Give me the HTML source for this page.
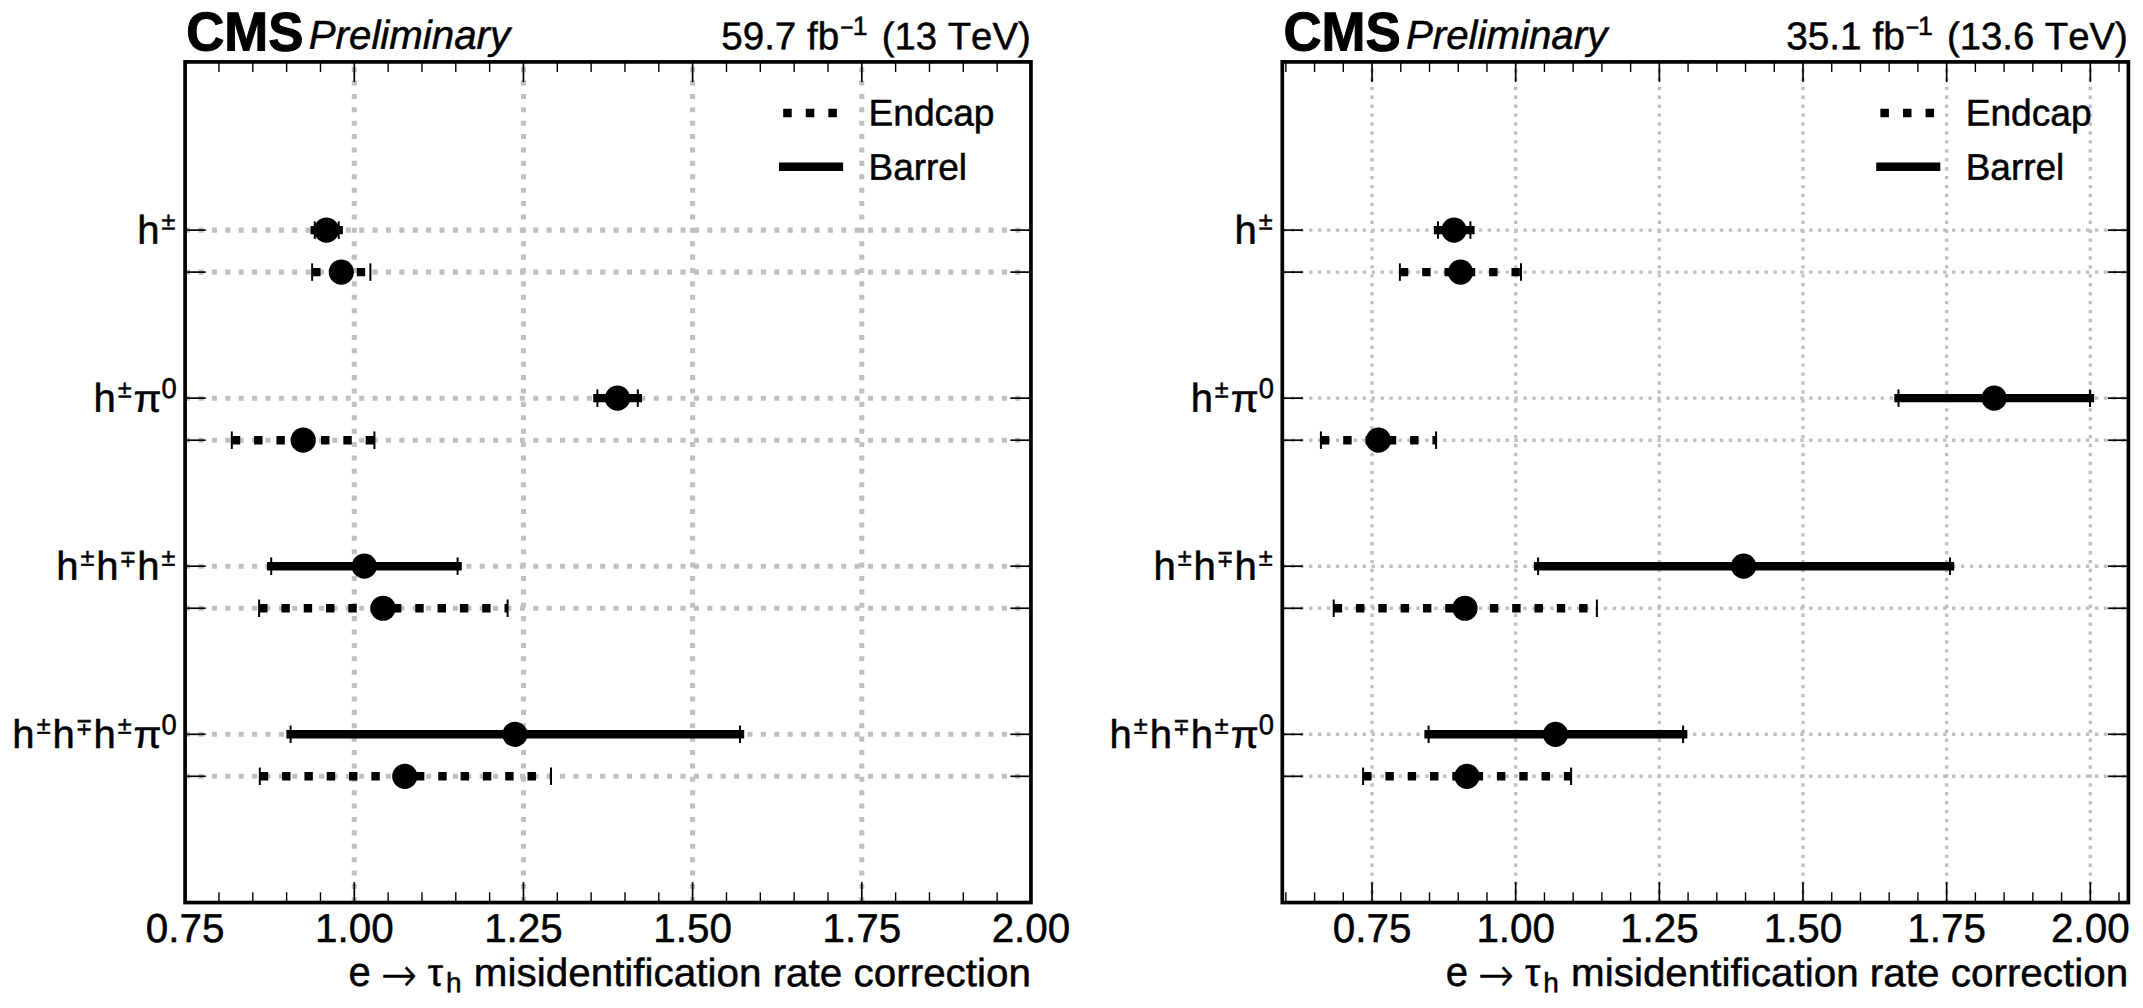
<!DOCTYPE html>
<html lang="en">
<head>
<meta charset="utf-8">
<title>e to tau_h misidentification rate correction</title>
<style>
html,body{margin:0;padding:0;background:#fff;}
body{width:2143px;height:1008px;overflow:hidden;}
svg{display:block;}
svg text{font-family:"Liberation Sans", "DejaVu Sans", sans-serif;fill:#000;font-kerning:none;}
</style>
</head>
<body>
<svg width="2143" height="1008" viewBox="0 0 2143 1008">
<rect x="0" y="0" width="2143" height="1008" fill="#fff"/>
<g id="panel0">
<g fill="none">
<line x1="354.3" y1="902.35" x2="354.3" y2="62" stroke="#c0c0c0" stroke-width="5.05" stroke-dasharray="5.05 8.34"/>
<line x1="523.45" y1="902.35" x2="523.45" y2="62" stroke="#c0c0c0" stroke-width="5.05" stroke-dasharray="5.05 8.34"/>
<line x1="692.6" y1="902.35" x2="692.6" y2="62" stroke="#c0c0c0" stroke-width="5.05" stroke-dasharray="5.05 8.34"/>
<line x1="861.8" y1="902.35" x2="861.8" y2="62" stroke="#c0c0c0" stroke-width="5.05" stroke-dasharray="5.05 8.34"/>
<line x1="185.1" y1="230.1" x2="1030.95" y2="230.1" stroke="#c0c0c0" stroke-width="5.05" stroke-dasharray="5.05 8.34"/>
<line x1="185.1" y1="272.1" x2="1030.95" y2="272.1" stroke="#c0c0c0" stroke-width="5.05" stroke-dasharray="5.05 8.34"/>
<line x1="185.1" y1="398.15" x2="1030.95" y2="398.15" stroke="#c0c0c0" stroke-width="5.05" stroke-dasharray="5.05 8.34"/>
<line x1="185.1" y1="440.2" x2="1030.95" y2="440.2" stroke="#c0c0c0" stroke-width="5.05" stroke-dasharray="5.05 8.34"/>
<line x1="185.1" y1="566.2" x2="1030.95" y2="566.2" stroke="#c0c0c0" stroke-width="5.05" stroke-dasharray="5.05 8.34"/>
<line x1="185.1" y1="608.25" x2="1030.95" y2="608.25" stroke="#c0c0c0" stroke-width="5.05" stroke-dasharray="5.05 8.34"/>
<line x1="185.1" y1="734.3" x2="1030.95" y2="734.3" stroke="#c0c0c0" stroke-width="5.05" stroke-dasharray="5.05 8.34"/>
<line x1="185.1" y1="776.3" x2="1030.95" y2="776.3" stroke="#c0c0c0" stroke-width="5.05" stroke-dasharray="5.05 8.34"/>
</g>
<g fill="none" stroke="#000">
<line x1="218.96" y1="61.9" x2="218.96" y2="72" stroke="#000" stroke-width="1.4"/>
<line x1="218.96" y1="902.55" x2="218.96" y2="892.35" stroke="#000" stroke-width="1.4"/>
<line x1="252.8" y1="61.9" x2="252.8" y2="72" stroke="#000" stroke-width="1.4"/>
<line x1="252.8" y1="902.55" x2="252.8" y2="892.35" stroke="#000" stroke-width="1.4"/>
<line x1="286.63" y1="61.9" x2="286.63" y2="72" stroke="#000" stroke-width="1.4"/>
<line x1="286.63" y1="902.55" x2="286.63" y2="892.35" stroke="#000" stroke-width="1.4"/>
<line x1="320.47" y1="61.9" x2="320.47" y2="72" stroke="#000" stroke-width="1.4"/>
<line x1="320.47" y1="902.55" x2="320.47" y2="892.35" stroke="#000" stroke-width="1.4"/>
<line x1="388.13" y1="61.9" x2="388.13" y2="72" stroke="#000" stroke-width="1.4"/>
<line x1="388.13" y1="902.55" x2="388.13" y2="892.35" stroke="#000" stroke-width="1.4"/>
<line x1="421.97" y1="61.9" x2="421.97" y2="72" stroke="#000" stroke-width="1.4"/>
<line x1="421.97" y1="902.55" x2="421.97" y2="892.35" stroke="#000" stroke-width="1.4"/>
<line x1="455.8" y1="61.9" x2="455.8" y2="72" stroke="#000" stroke-width="1.4"/>
<line x1="455.8" y1="902.55" x2="455.8" y2="892.35" stroke="#000" stroke-width="1.4"/>
<line x1="489.64" y1="61.9" x2="489.64" y2="72" stroke="#000" stroke-width="1.4"/>
<line x1="489.64" y1="902.55" x2="489.64" y2="892.35" stroke="#000" stroke-width="1.4"/>
<line x1="557.3" y1="61.9" x2="557.3" y2="72" stroke="#000" stroke-width="1.4"/>
<line x1="557.3" y1="902.55" x2="557.3" y2="892.35" stroke="#000" stroke-width="1.4"/>
<line x1="591.14" y1="61.9" x2="591.14" y2="72" stroke="#000" stroke-width="1.4"/>
<line x1="591.14" y1="902.55" x2="591.14" y2="892.35" stroke="#000" stroke-width="1.4"/>
<line x1="624.97" y1="61.9" x2="624.97" y2="72" stroke="#000" stroke-width="1.4"/>
<line x1="624.97" y1="902.55" x2="624.97" y2="892.35" stroke="#000" stroke-width="1.4"/>
<line x1="658.81" y1="61.9" x2="658.81" y2="72" stroke="#000" stroke-width="1.4"/>
<line x1="658.81" y1="902.55" x2="658.81" y2="892.35" stroke="#000" stroke-width="1.4"/>
<line x1="726.47" y1="61.9" x2="726.47" y2="72" stroke="#000" stroke-width="1.4"/>
<line x1="726.47" y1="902.55" x2="726.47" y2="892.35" stroke="#000" stroke-width="1.4"/>
<line x1="760.31" y1="61.9" x2="760.31" y2="72" stroke="#000" stroke-width="1.4"/>
<line x1="760.31" y1="902.55" x2="760.31" y2="892.35" stroke="#000" stroke-width="1.4"/>
<line x1="794.14" y1="61.9" x2="794.14" y2="72" stroke="#000" stroke-width="1.4"/>
<line x1="794.14" y1="902.55" x2="794.14" y2="892.35" stroke="#000" stroke-width="1.4"/>
<line x1="827.98" y1="61.9" x2="827.98" y2="72" stroke="#000" stroke-width="1.4"/>
<line x1="827.98" y1="902.55" x2="827.98" y2="892.35" stroke="#000" stroke-width="1.4"/>
<line x1="895.64" y1="61.9" x2="895.64" y2="72" stroke="#000" stroke-width="1.4"/>
<line x1="895.64" y1="902.55" x2="895.64" y2="892.35" stroke="#000" stroke-width="1.4"/>
<line x1="929.48" y1="61.9" x2="929.48" y2="72" stroke="#000" stroke-width="1.4"/>
<line x1="929.48" y1="902.55" x2="929.48" y2="892.35" stroke="#000" stroke-width="1.4"/>
<line x1="963.31" y1="61.9" x2="963.31" y2="72" stroke="#000" stroke-width="1.4"/>
<line x1="963.31" y1="902.55" x2="963.31" y2="892.35" stroke="#000" stroke-width="1.4"/>
<line x1="997.15" y1="61.9" x2="997.15" y2="72" stroke="#000" stroke-width="1.4"/>
<line x1="997.15" y1="902.55" x2="997.15" y2="892.35" stroke="#000" stroke-width="1.4"/>
<line x1="185.1" y1="61.9" x2="185.1" y2="82.05" stroke="#000" stroke-width="1.7"/>
<line x1="185.1" y1="902.55" x2="185.1" y2="882.15" stroke="#000" stroke-width="1.7"/>
<line x1="354.3" y1="61.9" x2="354.3" y2="82.05" stroke="#000" stroke-width="1.7"/>
<line x1="354.3" y1="902.55" x2="354.3" y2="882.15" stroke="#000" stroke-width="1.7"/>
<line x1="523.45" y1="61.9" x2="523.45" y2="82.05" stroke="#000" stroke-width="1.7"/>
<line x1="523.45" y1="902.55" x2="523.45" y2="882.15" stroke="#000" stroke-width="1.7"/>
<line x1="692.6" y1="61.9" x2="692.6" y2="82.05" stroke="#000" stroke-width="1.7"/>
<line x1="692.6" y1="902.55" x2="692.6" y2="882.15" stroke="#000" stroke-width="1.7"/>
<line x1="861.8" y1="61.9" x2="861.8" y2="82.05" stroke="#000" stroke-width="1.7"/>
<line x1="861.8" y1="902.55" x2="861.8" y2="882.15" stroke="#000" stroke-width="1.7"/>
<line x1="1030.95" y1="61.9" x2="1030.95" y2="82.05" stroke="#000" stroke-width="1.7"/>
<line x1="1030.95" y1="902.55" x2="1030.95" y2="882.15" stroke="#000" stroke-width="1.7"/>
<line x1="185.1" y1="230.1" x2="205.7" y2="230.1" stroke="#000" stroke-width="1.7"/>
<line x1="1030.95" y1="230.1" x2="1010.35" y2="230.1" stroke="#000" stroke-width="1.7"/>
<line x1="185.1" y1="272.1" x2="205.7" y2="272.1" stroke="#000" stroke-width="1.7"/>
<line x1="1030.95" y1="272.1" x2="1010.35" y2="272.1" stroke="#000" stroke-width="1.7"/>
<line x1="185.1" y1="398.15" x2="205.7" y2="398.15" stroke="#000" stroke-width="1.7"/>
<line x1="1030.95" y1="398.15" x2="1010.35" y2="398.15" stroke="#000" stroke-width="1.7"/>
<line x1="185.1" y1="440.2" x2="205.7" y2="440.2" stroke="#000" stroke-width="1.7"/>
<line x1="1030.95" y1="440.2" x2="1010.35" y2="440.2" stroke="#000" stroke-width="1.7"/>
<line x1="185.1" y1="566.2" x2="205.7" y2="566.2" stroke="#000" stroke-width="1.7"/>
<line x1="1030.95" y1="566.2" x2="1010.35" y2="566.2" stroke="#000" stroke-width="1.7"/>
<line x1="185.1" y1="608.25" x2="205.7" y2="608.25" stroke="#000" stroke-width="1.7"/>
<line x1="1030.95" y1="608.25" x2="1010.35" y2="608.25" stroke="#000" stroke-width="1.7"/>
<line x1="185.1" y1="734.3" x2="205.7" y2="734.3" stroke="#000" stroke-width="1.7"/>
<line x1="1030.95" y1="734.3" x2="1010.35" y2="734.3" stroke="#000" stroke-width="1.7"/>
<line x1="185.1" y1="776.3" x2="205.7" y2="776.3" stroke="#000" stroke-width="1.7"/>
<line x1="1030.95" y1="776.3" x2="1010.35" y2="776.3" stroke="#000" stroke-width="1.7"/>
</g>
<g>
<line x1="310.59" y1="230.1" x2="342.91" y2="230.1" stroke="#000" stroke-width="8.42"/>
<line x1="314.8" y1="221.35" x2="314.8" y2="238.85" stroke="#000" stroke-width="2"/>
<line x1="338.7" y1="221.35" x2="338.7" y2="238.85" stroke="#000" stroke-width="2"/>
<circle cx="326.5" cy="230.1" r="12.6" fill="#000"/>
<line x1="312.15" y1="272.1" x2="370.4" y2="272.1" stroke="#000" stroke-width="8.42" stroke-dasharray="8.42 13.89"/>
<line x1="312.15" y1="263.35" x2="312.15" y2="280.85" stroke="#000" stroke-width="2"/>
<line x1="370.4" y1="263.35" x2="370.4" y2="280.85" stroke="#000" stroke-width="2"/>
<circle cx="341.3" cy="272.1" r="12.6" fill="#000"/>
<line x1="593.19" y1="398.15" x2="642.01" y2="398.15" stroke="#000" stroke-width="8.42"/>
<line x1="597.4" y1="389.4" x2="597.4" y2="406.9" stroke="#000" stroke-width="2"/>
<line x1="637.8" y1="389.4" x2="637.8" y2="406.9" stroke="#000" stroke-width="2"/>
<circle cx="617.5" cy="398.15" r="12.6" fill="#000"/>
<line x1="231.8" y1="440.2" x2="374.4" y2="440.2" stroke="#000" stroke-width="8.42" stroke-dasharray="8.42 13.89"/>
<line x1="231.8" y1="431.45" x2="231.8" y2="448.95" stroke="#000" stroke-width="2"/>
<line x1="374.4" y1="431.45" x2="374.4" y2="448.95" stroke="#000" stroke-width="2"/>
<circle cx="303.2" cy="440.2" r="12.6" fill="#000"/>
<line x1="266.99" y1="566.2" x2="461.81" y2="566.2" stroke="#000" stroke-width="8.42"/>
<line x1="271.2" y1="557.45" x2="271.2" y2="574.95" stroke="#000" stroke-width="2"/>
<line x1="457.6" y1="557.45" x2="457.6" y2="574.95" stroke="#000" stroke-width="2"/>
<circle cx="364.3" cy="566.2" r="12.6" fill="#000"/>
<line x1="259.1" y1="608.25" x2="507.6" y2="608.25" stroke="#000" stroke-width="8.42" stroke-dasharray="8.42 13.89"/>
<line x1="259.1" y1="599.5" x2="259.1" y2="617" stroke="#000" stroke-width="2"/>
<line x1="507.6" y1="599.5" x2="507.6" y2="617" stroke="#000" stroke-width="2"/>
<circle cx="383" cy="608.25" r="12.6" fill="#000"/>
<line x1="286.39" y1="734.3" x2="744.21" y2="734.3" stroke="#000" stroke-width="8.42"/>
<line x1="290.6" y1="725.55" x2="290.6" y2="743.05" stroke="#000" stroke-width="2"/>
<line x1="740" y1="725.55" x2="740" y2="743.05" stroke="#000" stroke-width="2"/>
<circle cx="514.9" cy="734.3" r="12.6" fill="#000"/>
<line x1="259.8" y1="776.3" x2="551" y2="776.3" stroke="#000" stroke-width="8.42" stroke-dasharray="8.42 13.89"/>
<line x1="259.8" y1="767.55" x2="259.8" y2="785.05" stroke="#000" stroke-width="2"/>
<line x1="551" y1="767.55" x2="551" y2="785.05" stroke="#000" stroke-width="2"/>
<circle cx="404.8" cy="776.3" r="12.6" fill="#000"/>
</g>
<rect x="185.1" y="61.9" width="845.85" height="840.65" fill="none" stroke="#000" stroke-width="3.7"/>
<line x1="783.2" y1="113.05" x2="838.8" y2="113.05" stroke="#000" stroke-width="8.62" stroke-dasharray="8.52 14.06"/>
<line x1="778.99" y1="166.7" x2="843.11" y2="166.7" stroke="#000" stroke-width="8.62"/>
<g class="header">
<text transform="translate(186.28 50.6) rotate(0.03) scale(1 1.04)" font-size="52.71" font-weight="bold" stroke="#000" stroke-width="1">CMS</text>
<text transform="translate(308.77 48.697) rotate(0.03)" font-size="40.26" font-style="italic" stroke="#000" stroke-width="0.5">Preliminary</text>
<text transform="translate(721.22 49.17) rotate(0.03)" font-size="38.59" stroke="#000" stroke-width="0.5">59.7 fb</text>
<text transform="translate(840.13 35.197) rotate(0.03)" font-size="22.83" stroke="#000" stroke-width="0.5">−</text>
<text transform="translate(852.73 34.984) rotate(0.03)" font-size="26.6" stroke="#000" stroke-width="0.5">1</text>
<text transform="translate(881.79 49.162) rotate(0.03)" font-size="38.28" stroke="#000" stroke-width="0.5">(13 TeV)</text>
</g>
<g class="legend-labels">
<text transform="translate(868.46 125.568) rotate(0.03)" font-size="37.16" stroke="#000" stroke-width="0.5">Endcap</text>
<text transform="translate(868.47 179.725) rotate(0.03)" font-size="36.98" stroke="#000" stroke-width="0.5">Barrel</text>
</g>
<g class="xtick-labels">
<text transform="translate(185.1 942.1) rotate(0.03)" font-size="40.4" stroke="#000" stroke-width="0.5" text-anchor="middle">0.75</text>
<text transform="translate(354.3 942.1) rotate(0.03)" font-size="40.4" stroke="#000" stroke-width="0.5" text-anchor="middle">1.00</text>
<text transform="translate(523.45 942.1) rotate(0.03)" font-size="40.4" stroke="#000" stroke-width="0.5" text-anchor="middle">1.25</text>
<text transform="translate(692.6 942.1) rotate(0.03)" font-size="40.4" stroke="#000" stroke-width="0.5" text-anchor="middle">1.50</text>
<text transform="translate(861.8 942.1) rotate(0.03)" font-size="40.4" stroke="#000" stroke-width="0.5" text-anchor="middle">1.75</text>
<text transform="translate(1030.95 942.1) rotate(0.03)" font-size="40.4" stroke="#000" stroke-width="0.5" text-anchor="middle">2.00</text>
</g>
<g class="xlabel">
<text transform="translate(348.62 985.845) rotate(0.03) scale(1 1.02)" font-size="40" stroke="#000" stroke-width="0.5">e</text>
<text transform="translate(380.89 991.197) rotate(0.03) scale(1 1.114)" font-size="42.94" font-weight="200" style='font-family:"DejaVu Sans Light", "DejaVu Sans", sans-serif' stroke="#000" stroke-width="0.5">→</text>
<text transform="translate(427.83 985.813) rotate(0.03) scale(1 0.992)" font-size="38.84" stroke="#000" stroke-width="0.5">τ</text>
<text transform="translate(446.11 992.249) rotate(0.03)" font-size="28" stroke="#000" stroke-width="0.5">h</text>
<text transform="translate(473.85 986.005) rotate(0.03) scale(1 0.972)" font-size="40.43" stroke="#000" stroke-width="0.5">misidentification rate correction</text>
</g>
<g class="ytick-label">
<text transform="translate(137.33 243.699) rotate(0.03)" font-size="40" stroke="#000" stroke-width="0.5">h</text>
<text transform="translate(161.59 229.549) rotate(0.03) scale(1 0.977)" font-size="25.3" stroke="#000" stroke-width="0.5">±</text>
</g>
<g class="ytick-label">
<text transform="translate(93.48 411.749) rotate(0.03)" font-size="40" stroke="#000" stroke-width="0.5">h</text>
<text transform="translate(117.64 397.599) rotate(0.03) scale(1 0.977)" font-size="25.3" stroke="#000" stroke-width="0.5">±</text>
<text transform="translate(133.44 411.724) rotate(0.03) scale(1 0.95)" font-size="40.56" stroke="#000" stroke-width="0.5">π</text>
<text transform="translate(161.62 398.108) rotate(0.03) scale(1 1.044)" font-size="27.33" stroke="#000" stroke-width="0.5">0</text>
</g>
<g class="ytick-label">
<text transform="translate(56.33 579.799) rotate(0.03)" font-size="40" stroke="#000" stroke-width="0.5">h</text>
<text transform="translate(80.46 565.649) rotate(0.03) scale(1 0.977)" font-size="25.3" stroke="#000" stroke-width="0.5">±</text>
<text transform="translate(96.33 579.799) rotate(0.03)" font-size="40" stroke="#000" stroke-width="0.5">h</text>
<text transform="translate(119.45 566.8) rotate(0.03) scale(1 1.18)" font-size="20.1" style='font-family:"DejaVu Sans", sans-serif' stroke="#000" stroke-width="0.5">∓</text>
<text transform="translate(137.33 579.799) rotate(0.03)" font-size="40" stroke="#000" stroke-width="0.5">h</text>
<text transform="translate(161.59 565.649) rotate(0.03) scale(1 0.977)" font-size="25.3" stroke="#000" stroke-width="0.5">±</text>
</g>
<g class="ytick-label">
<text transform="translate(12.33 747.899) rotate(0.03)" font-size="40" stroke="#000" stroke-width="0.5">h</text>
<text transform="translate(36.64 733.749) rotate(0.03) scale(1 0.977)" font-size="25.3" stroke="#000" stroke-width="0.5">±</text>
<text transform="translate(52.58 747.899) rotate(0.03)" font-size="40" stroke="#000" stroke-width="0.5">h</text>
<text transform="translate(75.8 734.9) rotate(0.03) scale(1 1.18)" font-size="20.1" style='font-family:"DejaVu Sans", sans-serif' stroke="#000" stroke-width="0.5">∓</text>
<text transform="translate(93.48 747.899) rotate(0.03)" font-size="40" stroke="#000" stroke-width="0.5">h</text>
<text transform="translate(117.64 733.749) rotate(0.03) scale(1 0.977)" font-size="25.3" stroke="#000" stroke-width="0.5">±</text>
<text transform="translate(133.44 747.874) rotate(0.03) scale(1 0.95)" font-size="40.56" stroke="#000" stroke-width="0.5">π</text>
<text transform="translate(161.62 734.258) rotate(0.03) scale(1 1.044)" font-size="27.33" stroke="#000" stroke-width="0.5">0</text>
</g>
</g>
<g id="panel1">
<g fill="none">
<line x1="1372.05" y1="902.65" x2="1372.05" y2="62" stroke="#c0c0c0" stroke-width="3.37" stroke-dasharray="3.37 5.56"/>
<line x1="1515.7" y1="902.65" x2="1515.7" y2="62" stroke="#c0c0c0" stroke-width="3.37" stroke-dasharray="3.37 5.56"/>
<line x1="1659.35" y1="902.65" x2="1659.35" y2="62" stroke="#c0c0c0" stroke-width="3.37" stroke-dasharray="3.37 5.56"/>
<line x1="1803" y1="902.65" x2="1803" y2="62" stroke="#c0c0c0" stroke-width="3.37" stroke-dasharray="3.37 5.56"/>
<line x1="1946.65" y1="902.65" x2="1946.65" y2="62" stroke="#c0c0c0" stroke-width="3.37" stroke-dasharray="3.37 5.56"/>
<line x1="2090.3" y1="902.65" x2="2090.3" y2="62" stroke="#c0c0c0" stroke-width="3.37" stroke-dasharray="3.37 5.56"/>
<line x1="1282.3" y1="230.1" x2="2128.4" y2="230.1" stroke="#c0c0c0" stroke-width="3.37" stroke-dasharray="3.37 5.56"/>
<line x1="1282.3" y1="272.1" x2="2128.4" y2="272.1" stroke="#c0c0c0" stroke-width="3.37" stroke-dasharray="3.37 5.56"/>
<line x1="1282.3" y1="398.15" x2="2128.4" y2="398.15" stroke="#c0c0c0" stroke-width="3.37" stroke-dasharray="3.37 5.56"/>
<line x1="1282.3" y1="440.2" x2="2128.4" y2="440.2" stroke="#c0c0c0" stroke-width="3.37" stroke-dasharray="3.37 5.56"/>
<line x1="1282.3" y1="566.2" x2="2128.4" y2="566.2" stroke="#c0c0c0" stroke-width="3.37" stroke-dasharray="3.37 5.56"/>
<line x1="1282.3" y1="608.25" x2="2128.4" y2="608.25" stroke="#c0c0c0" stroke-width="3.37" stroke-dasharray="3.37 5.56"/>
<line x1="1282.3" y1="734.3" x2="2128.4" y2="734.3" stroke="#c0c0c0" stroke-width="3.37" stroke-dasharray="3.37 5.56"/>
<line x1="1282.3" y1="776.3" x2="2128.4" y2="776.3" stroke="#c0c0c0" stroke-width="3.37" stroke-dasharray="3.37 5.56"/>
</g>
<g fill="none" stroke="#000">
<line x1="1285.86" y1="61.9" x2="1285.86" y2="72" stroke="#000" stroke-width="1.4"/>
<line x1="1285.86" y1="902.55" x2="1285.86" y2="892.35" stroke="#000" stroke-width="1.4"/>
<line x1="1314.59" y1="61.9" x2="1314.59" y2="72" stroke="#000" stroke-width="1.4"/>
<line x1="1314.59" y1="902.55" x2="1314.59" y2="892.35" stroke="#000" stroke-width="1.4"/>
<line x1="1343.32" y1="61.9" x2="1343.32" y2="72" stroke="#000" stroke-width="1.4"/>
<line x1="1343.32" y1="902.55" x2="1343.32" y2="892.35" stroke="#000" stroke-width="1.4"/>
<line x1="1400.78" y1="61.9" x2="1400.78" y2="72" stroke="#000" stroke-width="1.4"/>
<line x1="1400.78" y1="902.55" x2="1400.78" y2="892.35" stroke="#000" stroke-width="1.4"/>
<line x1="1429.51" y1="61.9" x2="1429.51" y2="72" stroke="#000" stroke-width="1.4"/>
<line x1="1429.51" y1="902.55" x2="1429.51" y2="892.35" stroke="#000" stroke-width="1.4"/>
<line x1="1458.24" y1="61.9" x2="1458.24" y2="72" stroke="#000" stroke-width="1.4"/>
<line x1="1458.24" y1="902.55" x2="1458.24" y2="892.35" stroke="#000" stroke-width="1.4"/>
<line x1="1486.97" y1="61.9" x2="1486.97" y2="72" stroke="#000" stroke-width="1.4"/>
<line x1="1486.97" y1="902.55" x2="1486.97" y2="892.35" stroke="#000" stroke-width="1.4"/>
<line x1="1544.43" y1="61.9" x2="1544.43" y2="72" stroke="#000" stroke-width="1.4"/>
<line x1="1544.43" y1="902.55" x2="1544.43" y2="892.35" stroke="#000" stroke-width="1.4"/>
<line x1="1573.16" y1="61.9" x2="1573.16" y2="72" stroke="#000" stroke-width="1.4"/>
<line x1="1573.16" y1="902.55" x2="1573.16" y2="892.35" stroke="#000" stroke-width="1.4"/>
<line x1="1601.89" y1="61.9" x2="1601.89" y2="72" stroke="#000" stroke-width="1.4"/>
<line x1="1601.89" y1="902.55" x2="1601.89" y2="892.35" stroke="#000" stroke-width="1.4"/>
<line x1="1630.62" y1="61.9" x2="1630.62" y2="72" stroke="#000" stroke-width="1.4"/>
<line x1="1630.62" y1="902.55" x2="1630.62" y2="892.35" stroke="#000" stroke-width="1.4"/>
<line x1="1688.08" y1="61.9" x2="1688.08" y2="72" stroke="#000" stroke-width="1.4"/>
<line x1="1688.08" y1="902.55" x2="1688.08" y2="892.35" stroke="#000" stroke-width="1.4"/>
<line x1="1716.81" y1="61.9" x2="1716.81" y2="72" stroke="#000" stroke-width="1.4"/>
<line x1="1716.81" y1="902.55" x2="1716.81" y2="892.35" stroke="#000" stroke-width="1.4"/>
<line x1="1745.54" y1="61.9" x2="1745.54" y2="72" stroke="#000" stroke-width="1.4"/>
<line x1="1745.54" y1="902.55" x2="1745.54" y2="892.35" stroke="#000" stroke-width="1.4"/>
<line x1="1774.27" y1="61.9" x2="1774.27" y2="72" stroke="#000" stroke-width="1.4"/>
<line x1="1774.27" y1="902.55" x2="1774.27" y2="892.35" stroke="#000" stroke-width="1.4"/>
<line x1="1831.73" y1="61.9" x2="1831.73" y2="72" stroke="#000" stroke-width="1.4"/>
<line x1="1831.73" y1="902.55" x2="1831.73" y2="892.35" stroke="#000" stroke-width="1.4"/>
<line x1="1860.46" y1="61.9" x2="1860.46" y2="72" stroke="#000" stroke-width="1.4"/>
<line x1="1860.46" y1="902.55" x2="1860.46" y2="892.35" stroke="#000" stroke-width="1.4"/>
<line x1="1889.19" y1="61.9" x2="1889.19" y2="72" stroke="#000" stroke-width="1.4"/>
<line x1="1889.19" y1="902.55" x2="1889.19" y2="892.35" stroke="#000" stroke-width="1.4"/>
<line x1="1917.92" y1="61.9" x2="1917.92" y2="72" stroke="#000" stroke-width="1.4"/>
<line x1="1917.92" y1="902.55" x2="1917.92" y2="892.35" stroke="#000" stroke-width="1.4"/>
<line x1="1975.38" y1="61.9" x2="1975.38" y2="72" stroke="#000" stroke-width="1.4"/>
<line x1="1975.38" y1="902.55" x2="1975.38" y2="892.35" stroke="#000" stroke-width="1.4"/>
<line x1="2004.11" y1="61.9" x2="2004.11" y2="72" stroke="#000" stroke-width="1.4"/>
<line x1="2004.11" y1="902.55" x2="2004.11" y2="892.35" stroke="#000" stroke-width="1.4"/>
<line x1="2032.84" y1="61.9" x2="2032.84" y2="72" stroke="#000" stroke-width="1.4"/>
<line x1="2032.84" y1="902.55" x2="2032.84" y2="892.35" stroke="#000" stroke-width="1.4"/>
<line x1="2061.57" y1="61.9" x2="2061.57" y2="72" stroke="#000" stroke-width="1.4"/>
<line x1="2061.57" y1="902.55" x2="2061.57" y2="892.35" stroke="#000" stroke-width="1.4"/>
<line x1="2119.03" y1="61.9" x2="2119.03" y2="72" stroke="#000" stroke-width="1.4"/>
<line x1="2119.03" y1="902.55" x2="2119.03" y2="892.35" stroke="#000" stroke-width="1.4"/>
<line x1="1372.05" y1="61.9" x2="1372.05" y2="82.05" stroke="#000" stroke-width="1.7"/>
<line x1="1372.05" y1="902.55" x2="1372.05" y2="882.15" stroke="#000" stroke-width="1.7"/>
<line x1="1515.7" y1="61.9" x2="1515.7" y2="82.05" stroke="#000" stroke-width="1.7"/>
<line x1="1515.7" y1="902.55" x2="1515.7" y2="882.15" stroke="#000" stroke-width="1.7"/>
<line x1="1659.35" y1="61.9" x2="1659.35" y2="82.05" stroke="#000" stroke-width="1.7"/>
<line x1="1659.35" y1="902.55" x2="1659.35" y2="882.15" stroke="#000" stroke-width="1.7"/>
<line x1="1803" y1="61.9" x2="1803" y2="82.05" stroke="#000" stroke-width="1.7"/>
<line x1="1803" y1="902.55" x2="1803" y2="882.15" stroke="#000" stroke-width="1.7"/>
<line x1="1946.65" y1="61.9" x2="1946.65" y2="82.05" stroke="#000" stroke-width="1.7"/>
<line x1="1946.65" y1="902.55" x2="1946.65" y2="882.15" stroke="#000" stroke-width="1.7"/>
<line x1="2090.3" y1="61.9" x2="2090.3" y2="82.05" stroke="#000" stroke-width="1.7"/>
<line x1="2090.3" y1="902.55" x2="2090.3" y2="882.15" stroke="#000" stroke-width="1.7"/>
<line x1="1282.3" y1="230.1" x2="1302.9" y2="230.1" stroke="#000" stroke-width="1.7"/>
<line x1="2128.4" y1="230.1" x2="2107.8" y2="230.1" stroke="#000" stroke-width="1.7"/>
<line x1="1282.3" y1="272.1" x2="1302.9" y2="272.1" stroke="#000" stroke-width="1.7"/>
<line x1="2128.4" y1="272.1" x2="2107.8" y2="272.1" stroke="#000" stroke-width="1.7"/>
<line x1="1282.3" y1="398.15" x2="1302.9" y2="398.15" stroke="#000" stroke-width="1.7"/>
<line x1="2128.4" y1="398.15" x2="2107.8" y2="398.15" stroke="#000" stroke-width="1.7"/>
<line x1="1282.3" y1="440.2" x2="1302.9" y2="440.2" stroke="#000" stroke-width="1.7"/>
<line x1="2128.4" y1="440.2" x2="2107.8" y2="440.2" stroke="#000" stroke-width="1.7"/>
<line x1="1282.3" y1="566.2" x2="1302.9" y2="566.2" stroke="#000" stroke-width="1.7"/>
<line x1="2128.4" y1="566.2" x2="2107.8" y2="566.2" stroke="#000" stroke-width="1.7"/>
<line x1="1282.3" y1="608.25" x2="1302.9" y2="608.25" stroke="#000" stroke-width="1.7"/>
<line x1="2128.4" y1="608.25" x2="2107.8" y2="608.25" stroke="#000" stroke-width="1.7"/>
<line x1="1282.3" y1="734.3" x2="1302.9" y2="734.3" stroke="#000" stroke-width="1.7"/>
<line x1="2128.4" y1="734.3" x2="2107.8" y2="734.3" stroke="#000" stroke-width="1.7"/>
<line x1="1282.3" y1="776.3" x2="1302.9" y2="776.3" stroke="#000" stroke-width="1.7"/>
<line x1="2128.4" y1="776.3" x2="2107.8" y2="776.3" stroke="#000" stroke-width="1.7"/>
</g>
<g>
<line x1="1433.79" y1="230.1" x2="1474.61" y2="230.1" stroke="#000" stroke-width="8.42"/>
<line x1="1438" y1="221.35" x2="1438" y2="238.85" stroke="#000" stroke-width="2"/>
<line x1="1470.4" y1="221.35" x2="1470.4" y2="238.85" stroke="#000" stroke-width="2"/>
<circle cx="1454" cy="230.1" r="12.6" fill="#000"/>
<line x1="1399.9" y1="272.1" x2="1521" y2="272.1" stroke="#000" stroke-width="8.42" stroke-dasharray="8.42 13.89"/>
<line x1="1399.9" y1="263.35" x2="1399.9" y2="280.85" stroke="#000" stroke-width="2"/>
<line x1="1521" y1="263.35" x2="1521" y2="280.85" stroke="#000" stroke-width="2"/>
<circle cx="1460.5" cy="272.1" r="12.6" fill="#000"/>
<line x1="1894.29" y1="398.15" x2="2094.21" y2="398.15" stroke="#000" stroke-width="8.42"/>
<line x1="1898.5" y1="389.4" x2="1898.5" y2="406.9" stroke="#000" stroke-width="2"/>
<line x1="2090" y1="389.4" x2="2090" y2="406.9" stroke="#000" stroke-width="2"/>
<circle cx="1994.2" cy="398.15" r="12.6" fill="#000"/>
<line x1="1320.9" y1="440.2" x2="1436.1" y2="440.2" stroke="#000" stroke-width="8.42" stroke-dasharray="8.42 13.89"/>
<line x1="1320.9" y1="431.45" x2="1320.9" y2="448.95" stroke="#000" stroke-width="2"/>
<line x1="1436.1" y1="431.45" x2="1436.1" y2="448.95" stroke="#000" stroke-width="2"/>
<circle cx="1378.4" cy="440.2" r="12.6" fill="#000"/>
<line x1="1533.89" y1="566.2" x2="1954.21" y2="566.2" stroke="#000" stroke-width="8.42"/>
<line x1="1538.1" y1="557.45" x2="1538.1" y2="574.95" stroke="#000" stroke-width="2"/>
<line x1="1950" y1="557.45" x2="1950" y2="574.95" stroke="#000" stroke-width="2"/>
<circle cx="1743.6" cy="566.2" r="12.6" fill="#000"/>
<line x1="1333.7" y1="608.25" x2="1596.9" y2="608.25" stroke="#000" stroke-width="8.42" stroke-dasharray="8.42 13.89"/>
<line x1="1333.7" y1="599.5" x2="1333.7" y2="617" stroke="#000" stroke-width="2"/>
<line x1="1596.9" y1="599.5" x2="1596.9" y2="617" stroke="#000" stroke-width="2"/>
<circle cx="1465" cy="608.25" r="12.6" fill="#000"/>
<line x1="1424.39" y1="734.3" x2="1687.31" y2="734.3" stroke="#000" stroke-width="8.42"/>
<line x1="1428.6" y1="725.55" x2="1428.6" y2="743.05" stroke="#000" stroke-width="2"/>
<line x1="1683.1" y1="725.55" x2="1683.1" y2="743.05" stroke="#000" stroke-width="2"/>
<circle cx="1555.5" cy="734.3" r="12.6" fill="#000"/>
<line x1="1363.1" y1="776.3" x2="1571.1" y2="776.3" stroke="#000" stroke-width="8.42" stroke-dasharray="8.42 13.89"/>
<line x1="1363.1" y1="767.55" x2="1363.1" y2="785.05" stroke="#000" stroke-width="2"/>
<line x1="1571.1" y1="767.55" x2="1571.1" y2="785.05" stroke="#000" stroke-width="2"/>
<circle cx="1467" cy="776.3" r="12.6" fill="#000"/>
</g>
<rect x="1282.3" y="61.9" width="846.1" height="840.65" fill="none" stroke="#000" stroke-width="3.7"/>
<line x1="1880.4" y1="113.05" x2="1936" y2="113.05" stroke="#000" stroke-width="8.62" stroke-dasharray="8.52 14.06"/>
<line x1="1876.19" y1="166.7" x2="1940.31" y2="166.7" stroke="#000" stroke-width="8.62"/>
<g class="header">
<text transform="translate(1283.48 50.6) rotate(0.03) scale(1 1.04)" font-size="52.71" font-weight="bold" stroke="#000" stroke-width="1">CMS</text>
<text transform="translate(1405.97 48.697) rotate(0.03)" font-size="40.26" font-style="italic" stroke="#000" stroke-width="0.5">Preliminary</text>
<text transform="translate(1786.16 49.17) rotate(0.03)" font-size="38.78" stroke="#000" stroke-width="0.5">35.1 fb</text>
<text transform="translate(1905.73 35.197) rotate(0.03)" font-size="22.83" stroke="#000" stroke-width="0.5">−</text>
<text transform="translate(1917.93 34.984) rotate(0.03)" font-size="26.6" stroke="#000" stroke-width="0.5">1</text>
<text transform="translate(1946.99 49.154) rotate(0.03)" font-size="38.27" stroke="#000" stroke-width="0.5">(13.6 TeV)</text>
</g>
<g class="legend-labels">
<text transform="translate(1965.66 125.568) rotate(0.03)" font-size="37.16" stroke="#000" stroke-width="0.5">Endcap</text>
<text transform="translate(1965.67 179.725) rotate(0.03)" font-size="36.98" stroke="#000" stroke-width="0.5">Barrel</text>
</g>
<g class="xtick-labels">
<text transform="translate(1372.05 942.1) rotate(0.03)" font-size="40.4" stroke="#000" stroke-width="0.5" text-anchor="middle">0.75</text>
<text transform="translate(1515.7 942.1) rotate(0.03)" font-size="40.4" stroke="#000" stroke-width="0.5" text-anchor="middle">1.00</text>
<text transform="translate(1659.35 942.1) rotate(0.03)" font-size="40.4" stroke="#000" stroke-width="0.5" text-anchor="middle">1.25</text>
<text transform="translate(1803 942.1) rotate(0.03)" font-size="40.4" stroke="#000" stroke-width="0.5" text-anchor="middle">1.50</text>
<text transform="translate(1946.65 942.1) rotate(0.03)" font-size="40.4" stroke="#000" stroke-width="0.5" text-anchor="middle">1.75</text>
<text transform="translate(2090.3 942.1) rotate(0.03)" font-size="40.4" stroke="#000" stroke-width="0.5" text-anchor="middle">2.00</text>
</g>
<g class="xlabel">
<text transform="translate(1445.82 985.845) rotate(0.03) scale(1 1.02)" font-size="40" stroke="#000" stroke-width="0.5">e</text>
<text transform="translate(1478.09 991.197) rotate(0.03) scale(1 1.114)" font-size="42.94" font-weight="200" style='font-family:"DejaVu Sans Light", "DejaVu Sans", sans-serif' stroke="#000" stroke-width="0.5">→</text>
<text transform="translate(1525.03 985.813) rotate(0.03) scale(1 0.992)" font-size="38.84" stroke="#000" stroke-width="0.5">τ</text>
<text transform="translate(1543.31 992.249) rotate(0.03)" font-size="28" stroke="#000" stroke-width="0.5">h</text>
<text transform="translate(1571.05 986.005) rotate(0.03) scale(1 0.972)" font-size="40.43" stroke="#000" stroke-width="0.5">misidentification rate correction</text>
</g>
<g class="ytick-label">
<text transform="translate(1234.53 243.699) rotate(0.03)" font-size="40" stroke="#000" stroke-width="0.5">h</text>
<text transform="translate(1258.79 229.549) rotate(0.03) scale(1 0.977)" font-size="25.3" stroke="#000" stroke-width="0.5">±</text>
</g>
<g class="ytick-label">
<text transform="translate(1190.68 411.749) rotate(0.03)" font-size="40" stroke="#000" stroke-width="0.5">h</text>
<text transform="translate(1214.84 397.599) rotate(0.03) scale(1 0.977)" font-size="25.3" stroke="#000" stroke-width="0.5">±</text>
<text transform="translate(1230.64 411.724) rotate(0.03) scale(1 0.95)" font-size="40.56" stroke="#000" stroke-width="0.5">π</text>
<text transform="translate(1258.82 398.108) rotate(0.03) scale(1 1.044)" font-size="27.33" stroke="#000" stroke-width="0.5">0</text>
</g>
<g class="ytick-label">
<text transform="translate(1153.53 579.799) rotate(0.03)" font-size="40" stroke="#000" stroke-width="0.5">h</text>
<text transform="translate(1177.66 565.649) rotate(0.03) scale(1 0.977)" font-size="25.3" stroke="#000" stroke-width="0.5">±</text>
<text transform="translate(1193.53 579.799) rotate(0.03)" font-size="40" stroke="#000" stroke-width="0.5">h</text>
<text transform="translate(1216.65 566.8) rotate(0.03) scale(1 1.18)" font-size="20.1" style='font-family:"DejaVu Sans", sans-serif' stroke="#000" stroke-width="0.5">∓</text>
<text transform="translate(1234.53 579.799) rotate(0.03)" font-size="40" stroke="#000" stroke-width="0.5">h</text>
<text transform="translate(1258.79 565.649) rotate(0.03) scale(1 0.977)" font-size="25.3" stroke="#000" stroke-width="0.5">±</text>
</g>
<g class="ytick-label">
<text transform="translate(1109.53 747.899) rotate(0.03)" font-size="40" stroke="#000" stroke-width="0.5">h</text>
<text transform="translate(1133.84 733.749) rotate(0.03) scale(1 0.977)" font-size="25.3" stroke="#000" stroke-width="0.5">±</text>
<text transform="translate(1149.78 747.899) rotate(0.03)" font-size="40" stroke="#000" stroke-width="0.5">h</text>
<text transform="translate(1173 734.9) rotate(0.03) scale(1 1.18)" font-size="20.1" style='font-family:"DejaVu Sans", sans-serif' stroke="#000" stroke-width="0.5">∓</text>
<text transform="translate(1190.68 747.899) rotate(0.03)" font-size="40" stroke="#000" stroke-width="0.5">h</text>
<text transform="translate(1214.84 733.749) rotate(0.03) scale(1 0.977)" font-size="25.3" stroke="#000" stroke-width="0.5">±</text>
<text transform="translate(1230.64 747.874) rotate(0.03) scale(1 0.95)" font-size="40.56" stroke="#000" stroke-width="0.5">π</text>
<text transform="translate(1258.82 734.258) rotate(0.03) scale(1 1.044)" font-size="27.33" stroke="#000" stroke-width="0.5">0</text>
</g>
</g>
</svg>
</body>
</html>
